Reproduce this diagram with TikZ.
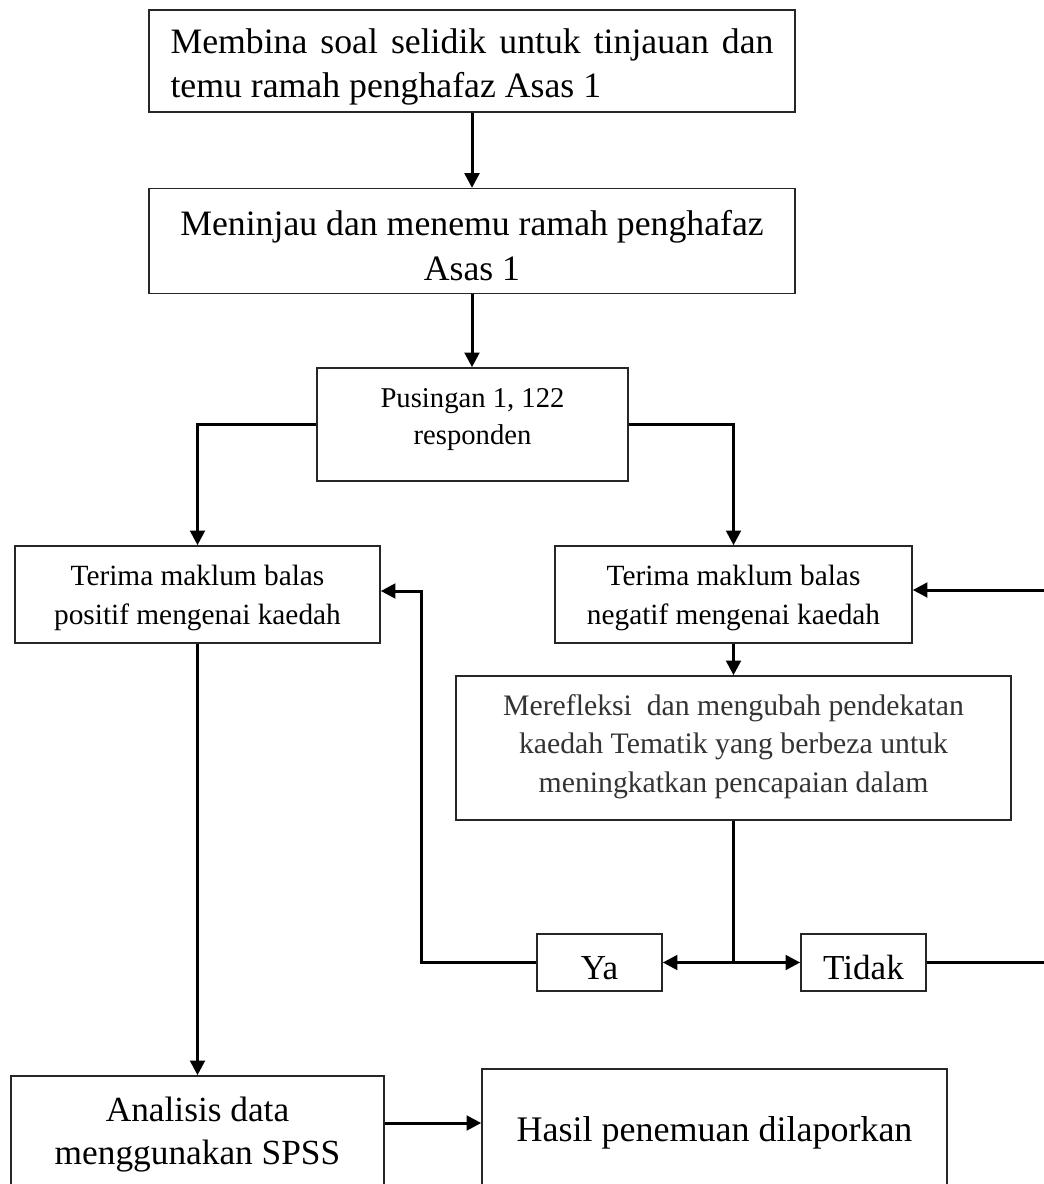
\documentclass[tikz,border=0pt]{standalone}
\usepackage{fontspec}
\setmainfont{Liberation Serif}
\usetikzlibrary{arrows.meta,calc}
\newcommand\topst[1]{\rule{0pt}{#1}}
\newcommand\botst[1]{\rule[-#1]{0pt}{0pt}}
\tikzset{
  box/.style={draw=black!85, line width=1.2pt, inner sep=0pt, align=center, fill=white},
  conn/.style={line width=2.25pt},
  arr/.style={conn, -{Triangle[length=11pt,width=11pt]}},
}
\begin{document}
\begin{tikzpicture}[x=0.75pt,y=-0.75pt]
\useasboundingbox (0,0) rectangle (1044,1184);
\fill[white] (0,0) rectangle (1044,1184);
\clip (0,0) rectangle (1044,1184);

\node[box, font=\fontsize{26.8}{33}\selectfont, text width=452.25pt, inner xsep=16.125pt, align=justify, minimum height=76.5pt] (b1) at (472,61)
  {\topst{32.5pt}Membina soal selidik untuk tinjauan dan\linebreak temu ramah penghafaz Asas 1\botst{10pt}};
\node[box, font=\fontsize{26.8}{33.75}\selectfont, minimum width=484.5pt, minimum height=76.5pt] (b2) at (472,241)
  {\topst{34.75pt}Meninjau dan menemu ramah penghafaz\\Asas 1\botst{10pt}};
\node[box, font=\fontsize{21.5}{27.75}\selectfont, minimum width=233.25pt, minimum height=84.75pt] (pus) at (472.5,424.5)
  {\topst{16.5pt}Pusingan 1, 122\\responden\botst{15pt}};
\node[box, font=\fontsize{22}{29.25}\selectfont, minimum width=273.75pt, minimum height=72.75pt] (pos) at (197.5,594.5)
  {\topst{25pt}Terima maklum balas\\positif mengenai kaedah\botst{10pt}};
\node[box, font=\fontsize{22}{29.25}\selectfont, minimum width=267.75pt, minimum height=72.75pt] (neg) at (733.5,594.5)
  {\topst{25pt}Terima maklum balas\\negatif mengenai kaedah\botst{10pt}};
\node[box, font=\fontsize{22.3}{28.875}\selectfont, text=black!80, minimum width=416.25pt, minimum height=108pt] (ref) at (733.5,748)
  {\topst{18.25pt}Merefleksi\ \ dan mengubah pendekatan\\kaedah Tematik yang berbeza untuk\\meningkatkan pencapaian dalam\botst{10pt}};
\node[box, font=\fontsize{26.3}{30}\selectfont, text height=24.75pt, text depth=0pt, minimum width=93.75pt, minimum height=42.75pt] (ya) at (599.5,962.5) {Ya};
\node[box, font=\fontsize{26.3}{30}\selectfont, text height=24.75pt, text depth=0pt, minimum width=93.75pt, minimum height=42.75pt] (tidak) at (863.5,962.5) {Tidak};
\node[box, font=\fontsize{26.5}{32.25}\selectfont, minimum width=279.75pt, minimum height=89.25pt] (ana) at (197.5,1135.5)
  {\topst{20.5pt}Analisis data\\menggunakan SPSS\botst{10pt}};
\node[box, font=\fontsize{27}{32}\selectfont, text height=19.75pt, text depth=10pt, minimum width=348.75pt, minimum height=98.25pt] (hasil) at (714.5,1134.5)
  {Hasil penemuan dilaporkan};

\coordinate (sp) at (ref.south |- ya.east);
\coordinate (yb) at (421,591);
\coordinate (tb) at (1047,590);
\coordinate (ah) at (0,1123);

\draw[arr] (b1.south) -- (b2.north);
\draw[arr] (b2.south) -- (b2.south |- pus.north);
\draw[arr] (pus.west) -| (pos.north);
\draw[arr] (pus.east) -| (neg.north);
\draw[arr] (pos.south) -- (ana.north);
\draw[arr] (neg.south) -- (ref.north);
\draw[conn] (ref.south) -- (sp);
\draw[arr] (sp) -- (ya.east);
\draw[arr] (sp) -- (tidak.west);
\draw[arr] (ya.west) -| (yb) -- (yb -| pos.east);
\draw[arr] (tidak.east) -| (tb) -- (tb -| neg.east);
\draw[arr] (ana.east |- ah) -- (hasil.west |- ah);
\end{tikzpicture}
\end{document}
